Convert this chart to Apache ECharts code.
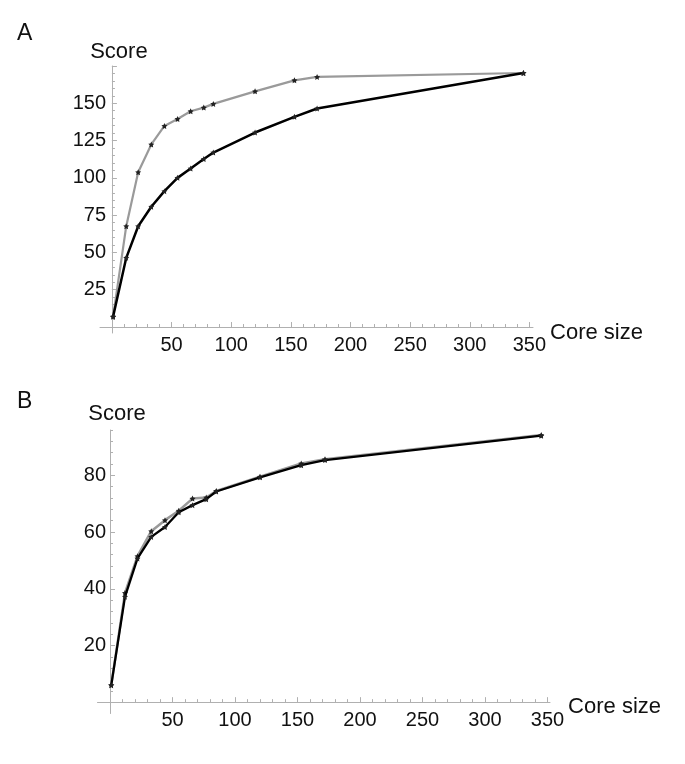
<!DOCTYPE html>
<html>
<head>
<meta charset="utf-8">
<script src="https://cdn.jsdelivr.net/npm/echarts@6/dist/echarts.min.js"></script>
<style>
html,body{margin:0;padding:0;background:#fff;}
#chart{width:685px;height:764px;}
</style>
</head>
<body>
<div id="chart"></div>
<script>
// ---- data ----
var coreSize = [1, 12, 22, 33, 44, 55, 66, 77, 85, 120, 153, 172, 345];
var scoreA_gray  = [7, 67.6, 103.8, 122.4, 134.8, 139.5, 144.7, 147.1, 149.6, 158, 165.4, 167.7, 170.3];
var scoreA_black = [7, 46.4, 67.6, 80.6, 91.1, 100, 106.3, 112.7, 117, 130.4, 140.9, 146.5, 170.3];
var scoreB_gray  = [6, 38.5, 51.5, 60.3, 64.2, 67.5, 71.8, 72.2, 74.5, 79.5, 84.2, 85.7, 94.2];
var scoreB_black = [6, 37.2, 50.7, 58.3, 61.8, 67, 69.5, 71.6, 74.3, 79.3, 83.6, 85.4, 94.0];

var xMajorLabels = [50, 100, 150, 200, 250, 300, 350];
var xMajorTicks  = [0, 50, 100, 150, 200, 250, 300, 350];
var xMinorTicks  = []; for (var i = 0; i <= 350; i += 10) xMinorTicks.push(i);
var yALabels = [25, 50, 75, 100, 125, 150];
var yAMajorTicks = [0, 25, 50, 75, 100, 125, 150, 175];
var yAMinorTicks = []; for (var j = 0; j <= 175; j += 5) yAMinorTicks.push(j);
var yBLabels = [20, 40, 60, 80];
var yBMajorTicks = [0, 20, 40, 60, 80];
var yBMinorTicks = []; for (var k = 0; k <= 96; k += 4) yBMinorTicks.push(k);

function pairs(xs, ys) { return xs.map(function (x, i) { return [x, ys[i]]; }); }

var FONT = 'Liberation Sans, Arial, sans-serif';
var AXIS_COLOR = '#b0b0b0';
var STAR = 'path://M0,-10 L2.9,-4 L9.5,-3.1 L4.8,1.5 L5.9,8.1 L0,5 L-5.9,8.1 L-4.8,1.5 L-9.5,-3.1 L-2.9,-4 Z';

function xAxes(grid, max, nameGap, labelMargin, nameLH) {
  return [
    {
      type: 'value', gridIndex: grid, position: 'bottom', min: -10, max: max,
      name: 'Core size', nameLocation: 'end', nameGap: nameGap,
      nameTextStyle: { fontFamily: FONT, fontSize: 22, color: '#111', verticalAlign: 'top', lineHeight: nameLH },
      axisLine: { show: true, onZero: true, lineStyle: { color: AXIS_COLOR, width: 1 } },
      axisTick: { show: true, inside: true, length: 5, customValues: xMajorTicks, lineStyle: { color: AXIS_COLOR } },
      axisLabel: { show: true, customValues: xMajorLabels, margin: labelMargin, fontFamily: FONT, fontSize: 20, color: '#111' },
      splitLine: { show: false }
    },
    {
      type: 'value', gridIndex: grid, position: 'bottom', min: -10, max: max,
      axisLine: { show: false, onZero: true },
      axisTick: { show: true, inside: true, length: 3, customValues: xMinorTicks, lineStyle: { color: AXIS_COLOR } },
      axisLabel: { show: false },
      splitLine: { show: false }
    }
  ];
}

function yAxes(grid, min, max, labels, major, minor, nameGap, labelMargin) {
  return [
    {
      type: 'value', gridIndex: grid, position: 'left', min: min, max: max,
      name: 'Score', nameLocation: 'end', nameGap: nameGap,
      nameTextStyle: { fontFamily: FONT, fontSize: 22, color: '#111', align: 'center', padding: [0, 0, 0, 14] },
      axisLine: { show: true, onZero: true, lineStyle: { color: AXIS_COLOR, width: 1 } },
      axisTick: { show: true, inside: true, length: 5, customValues: major, lineStyle: { color: AXIS_COLOR } },
      axisLabel: { show: true, customValues: labels, margin: labelMargin, fontFamily: FONT, fontSize: 20, color: '#111' },
      splitLine: { show: false }
    },
    {
      type: 'value', gridIndex: grid, position: 'left', min: min, max: max,
      axisLine: { show: false, onZero: true },
      axisTick: { show: true, inside: true, length: 3, customValues: minor, lineStyle: { color: AXIS_COLOR } },
      axisLabel: { show: false },
      splitLine: { show: false }
    }
  ];
}

function line(xi, yi, data, color, width, z) {
  return {
    type: 'line', xAxisIndex: xi, yAxisIndex: yi, data: data, z: z,
    lineStyle: { color: color, width: width },
    symbol: STAR, symbolSize: 6, showSymbol: true,
    itemStyle: { color: '#222' },
    animation: false, silent: true
  };
}

var chart = echarts.init(document.getElementById('chart'), null, { renderer: 'canvas' });
chart.setOption({
  backgroundColor: '#fff',
  animation: false,
  title: [
    { text: 'A', left: 12, top: 17, textStyle: { fontFamily: FONT, fontSize: 23, fontWeight: 'normal', color: '#111' } },
    { text: 'B', left: 12, top: 385, textStyle: { fontFamily: FONT, fontSize: 23, fontWeight: 'normal', color: '#111' } }
  ],
  grid: [
    { left: 100, top: 66, width: 433, height: 267 },
    { left: 97.5, top: 430, width: 452.5, height: 283.5 }
  ],
  xAxis: xAxes(0, 353, 11, 2, 12).concat(xAxes(1, 352, 12, -3.5, 10)),
  yAxis: yAxes(0, -4, 175, yALabels, yAMajorTicks, yAMinorTicks, 3, -6)
    .concat(yAxes(1, -4, 96, yBLabels, yBMajorTicks, yBMinorTicks, 5, -8.5)),
  series: [
    line(0, 0, pairs(coreSize, scoreA_gray), '#9a9a9a', 2.2, 2),
    line(0, 0, pairs(coreSize, scoreA_black), '#000', 2.5, 3),
    line(2, 2, pairs(coreSize, scoreB_gray), '#9a9a9a', 2.5, 2),
    line(2, 2, pairs(coreSize, scoreB_black), '#000', 2.3, 3)
  ]
});
</script>
</body>
</html>
